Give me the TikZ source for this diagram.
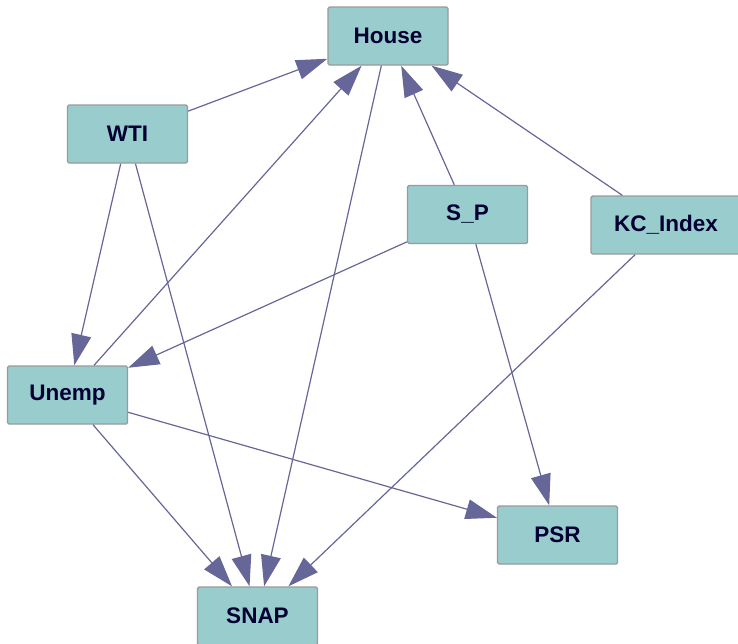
\documentclass[tikz,border=0pt]{standalone}
\usepackage{fontspec}
\setmainfont{Liberation Sans}
\usetikzlibrary{arrows.meta}
\definecolor{boxfill}{HTML}{99CCCC}
\definecolor{boxline}{HTML}{9A9A9A}
\definecolor{edgecol}{HTML}{666699}
\definecolor{labelcol}{HTML}{000033}

\begin{document}
\begin{tikzpicture}[x=1pt,y=-1pt,
    every node/.style={rectangle,rounded corners=1.5pt,fill=boxfill,draw=boxline,line width=1.4pt,
        minimum width=120pt,minimum height=58pt,text=labelcol,
        font=\fontsize{22.5}{26}\selectfont\bfseries},
    every path/.style={draw=edgecol,line width=1.2pt,-{Triangle[length=31pt,width=20pt]}}]
    \useasboundingbox[draw=none,-] (0,0) rectangle (738,643);

    \node (house) at (388,36) {House};
    \node (wti) at (127.5,134) {WTI};
    \node (sp) at (467.5,214.5) {S\_P};
    \node[minimum width=150pt] (kc) at (666,225) {KC\_Index};
    \node (unemp) at (67.5,395) {Unemp};
    \node (psr) at (557.5,535) {PSR};
    \node (snap) at (257.5,616) {SNAP};

    \draw (wti) -- (house);
    \draw (wti) -- (unemp);
    \draw (wti) -- (snap);
    \draw (unemp) -- (house);
    \draw (unemp) -- (snap);
    \draw (unemp) -- (psr);
    \draw (sp) -- (house);
    \draw (sp) -- (unemp);
    \draw (sp) -- (psr);
    \draw (kc) -- (house);
    \draw (kc) -- (snap);
    \draw (house) -- (snap);
\end{tikzpicture}
\end{document}
